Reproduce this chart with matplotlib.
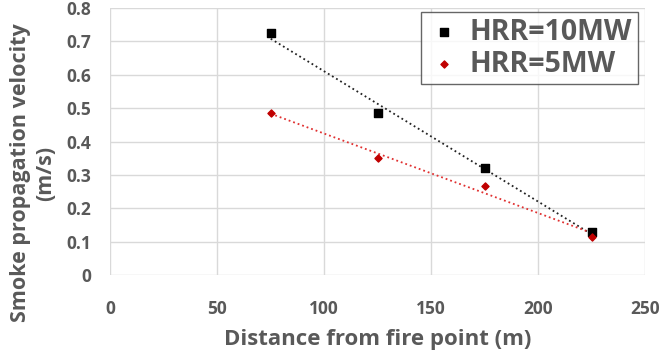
import numpy as np
import matplotlib.pyplot as plt

distance = [75, 125, 175, 225]
v_10mw = [0.725, 0.485, 0.322, 0.128]
v_5mw = [0.485, 0.350, 0.268, 0.115]

x_ticks = [0, 50, 100, 150, 200, 250]
y_ticks = [0, 0.1, 0.2, 0.3, 0.4, 0.5, 0.6, 0.7, 0.8]

grey = '#595959'
plt.rcParams['font.family'] = ['Open Sans', 'DejaVu Sans']
plt.rcParams['font.weight'] = 'bold'

fig = plt.figure(figsize=(6.68, 3.52), dpi=100)
ax = fig.add_axes([0.165, 0.219, 0.801, 0.758])

ax.scatter(distance, v_10mw, marker='s', s=36, color='black', zorder=3, label='HRR=10MW')
ax.scatter(distance, v_5mw, marker='D', s=13, color='#c00000', zorder=3, label='HRR=5MW')

# linear trend lines, like the excel ones
xs = np.array([distance[0], distance[-1]])
p1 = np.polyfit(distance, v_10mw, 1)
p2 = np.polyfit(distance, v_5mw, 1)
ax.plot(xs, np.polyval(p1, xs), ls=':', lw=1.3, color='#222222', zorder=2)
ax.plot(xs, np.polyval(p2, xs), ls=':', lw=1.3, color='#e03030', zorder=2)

ax.set_xlim(0, 250)
ax.set_ylim(0, 0.8)
ax.set_xticks(x_ticks)
ax.set_yticks(y_ticks)
ax.set_yticklabels(['0'] + ['%.1f' % v for v in y_ticks[1:]])
ax.grid(True, color='#d9d9d9', lw=1)
ax.set_axisbelow(True)
for s in ax.spines.values():
    s.set_visible(False)
ax.tick_params(length=0, labelsize=12.5, labelcolor=grey, pad=14)
ax.tick_params(axis='x', pad=18)

ax.set_xlabel('Distance from fire point (m)', fontsize=16, fontweight='bold',
              color=grey, labelpad=8)
ax.set_ylabel('Smoke propagation velocity\n(m/s)', fontsize=15.5, fontweight='bold',
              color=grey, linespacing=1.2)
ax.yaxis.set_label_coords(-0.102, 0.382)

leg = ax.legend(loc='upper right', bbox_to_anchor=(0.986, 0.985), borderaxespad=0,
                fontsize=20.5, frameon=True, fancybox=False, handletextpad=0.3,
                borderpad=0.2, labelspacing=0.1, markerscale=1.0, handlelength=1.2)
leg.get_frame().set_edgecolor('#404040')
leg.get_frame().set_linewidth(1.0)
for t in leg.get_texts():
    t.set_color(grey)

fig.savefig('out.png', dpi=100)
